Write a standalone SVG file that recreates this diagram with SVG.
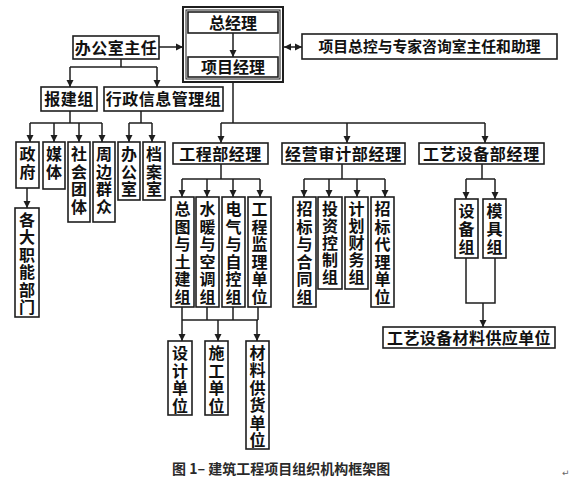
<svg xmlns="http://www.w3.org/2000/svg" width="570" height="479" viewBox="0 0 570 479">
<defs>
<style>
.b{fill:#fff;stroke:#1e1e1e;stroke-width:1.6}
.t{font-family:"Noto Sans CJK SC","Noto Sans",sans-serif;font-size:16px;font-weight:700;fill:#111;text-anchor:middle}
.v{font-family:"Noto Sans CJK SC","Noto Sans",sans-serif;font-size:16px;font-weight:700;fill:#111;writing-mode:vertical-rl;text-anchor:start;letter-spacing:1.5px}
.c line,.c polyline{stroke:#1e1e1e;stroke-width:1.5;fill:none}
.a{marker-end:url(#ah)}
</style>
<marker id="ah" viewBox="0 0 10 10" refX="10" refY="5" markerWidth="7" markerHeight="8" markerUnits="userSpaceOnUse" orient="auto-start-reverse">
<path d="M0,0 L10,5 L0,10 z" fill="#1e1e1e"/>
</marker>
</defs>
<rect width="570" height="479" fill="#fff"/>

<g id="connectors" class="c">
<line class="a" x1="233" y1="33" x2="233" y2="57"/>
<line class="a" x1="159" y1="47" x2="183" y2="47"/>
<line x1="284" y1="47" x2="302" y2="47" marker-start="url(#ah)" marker-end="url(#ah)"/>
<polyline points="121,59 121,67"/>
<line x1="70" y1="67" x2="157" y2="67"/>
<line class="a" x1="70" y1="67" x2="70" y2="87"/>
<line class="a" x1="157" y1="67" x2="157" y2="87"/>
<line x1="70" y1="111" x2="70" y2="123"/>
<line x1="30" y1="123" x2="102" y2="123"/>
<line class="a" x1="30" y1="123" x2="30" y2="142"/>
<line class="a" x1="54" y1="123" x2="54" y2="142"/>
<line class="a" x1="79" y1="123" x2="79" y2="142"/>
<line class="a" x1="102" y1="123" x2="102" y2="142"/>
<line x1="141" y1="111" x2="141" y2="123"/>
<line x1="129" y1="123" x2="152" y2="123"/>
<line class="a" x1="129" y1="123" x2="129" y2="142"/>
<line class="a" x1="152" y1="123" x2="152" y2="142"/>
<line class="a" x1="27" y1="188" x2="27" y2="208"/>
<line x1="233" y1="82" x2="233" y2="123"/>
<line x1="221" y1="123" x2="485" y2="123"/>
<line class="a" x1="221" y1="123" x2="221" y2="143"/>
<line class="a" x1="347" y1="123" x2="347" y2="143"/>
<line class="a" x1="485" y1="123" x2="485" y2="143"/>
<line x1="221" y1="164" x2="221" y2="179"/>
<line x1="182" y1="179" x2="260" y2="179"/>
<line class="a" x1="182" y1="179" x2="182" y2="197"/>
<line class="a" x1="207" y1="179" x2="207" y2="197"/>
<line class="a" x1="233" y1="179" x2="233" y2="197"/>
<line class="a" x1="260" y1="179" x2="260" y2="197"/>
<line x1="342" y1="164" x2="342" y2="179"/>
<line x1="304" y1="179" x2="385" y2="179"/>
<line class="a" x1="304" y1="179" x2="304" y2="197"/>
<line class="a" x1="329" y1="179" x2="329" y2="197"/>
<line class="a" x1="357" y1="179" x2="357" y2="197"/>
<line class="a" x1="385" y1="179" x2="385" y2="197"/>
<line x1="482" y1="164" x2="482" y2="179"/>
<line x1="466" y1="179" x2="495" y2="179"/>
<line class="a" x1="466" y1="179" x2="466" y2="199"/>
<line class="a" x1="495" y1="179" x2="495" y2="199"/>
<polyline points="466,258 466,303 495,303 495,258"/>
<line class="a" x1="483" y1="303" x2="483" y2="327"/>
<line x1="182" y1="307" x2="182" y2="320"/>
<line x1="207" y1="307" x2="207" y2="320"/>
<line x1="233" y1="307" x2="233" y2="320"/>
<line x1="258" y1="307" x2="258" y2="320"/>
<line x1="182" y1="320" x2="258" y2="320"/>
<line class="a" x1="182" y1="320" x2="182" y2="341"/>
<line class="a" x1="218" y1="320" x2="218" y2="341"/>
<line class="a" x1="257" y1="320" x2="257" y2="341"/>
</g>

<g id="top-frame">
<rect x="183" y="7" width="100" height="75" fill="none" stroke="#1e1e1e" stroke-width="2"/>
<rect x="186" y="10" width="94" height="69" fill="none" stroke="#1e1e1e" stroke-width="1"/>
</g>
<g id="zongjingli"><rect class="b" x="188" y="12" width="90" height="21"/><text class="t" x="233" y="28.5">总经理</text></g>
<g id="xiangmujingli"><rect class="b" x="188" y="57" width="90" height="20"/><text class="t" x="233" y="73">项目经理</text></g>
<g id="bangongshizhuren"><rect class="b" x="73" y="36" width="86" height="23"/><text class="t" x="116" y="53.5" letter-spacing="0.5">办公室主任</text></g>
<g id="zongkong"><rect class="b" x="302" y="34" width="255" height="25"/><text class="t" x="429.5" y="52" style="font-size:14.8px">项目总控与专家咨询室主任和助理</text></g>
<g id="baojianzu"><rect class="b" x="41" y="87" width="56" height="24"/><text class="t" x="69" y="105" letter-spacing="0.5">报建组</text></g>
<g id="xingzheng"><rect class="b" x="104" y="87" width="119" height="24"/><text class="t" x="163.5" y="105" letter-spacing="0.5">行政信息管理组</text></g>

<g id="zhengfu"><rect class="b" x="16" y="142" width="23" height="46"/><text class="v" x="27.5" y="146">政府</text></g>
<g id="meiti"><rect class="b" x="43" y="142" width="22" height="47"/><text class="v" x="54" y="146">媒体</text></g>
<g id="shehuituanti"><rect class="b" x="68" y="142" width="22" height="80"/><text class="v" x="79" y="146">社会团体</text></g>
<g id="zhoubianqunzhong"><rect class="b" x="93" y="142" width="22" height="80"/><text class="v" x="104" y="146">周边群众</text></g>
<g id="bangongshi"><rect class="b" x="118" y="142" width="22" height="58"/><text class="v" x="129" y="146">办公室</text></g>
<g id="dananshi"><rect class="b" x="143" y="142" width="22" height="58"/><text class="v" x="154" y="146">档案室</text></g>
<g id="gedazhinengbumen"><rect class="b" x="15" y="208" width="24" height="109"/><text class="v" x="27" y="212" style="letter-spacing:1.4px">各大职能部门</text></g>

<g id="gongchengbu"><rect class="b" x="173" y="143" width="95" height="21"/><text class="t" x="220.5" y="159.5" letter-spacing="0.5">工程部经理</text></g>
<g id="jingyingshenji"><rect class="b" x="282" y="143" width="123" height="21"/><text class="t" x="343.5" y="159.5" letter-spacing="0.7">经营审计部经理</text></g>
<g id="gongyishebei"><rect class="b" x="419" y="143" width="125" height="21"/><text class="t" x="481.5" y="159.5" letter-spacing="0.7">工艺设备部经理</text></g>

<g id="zongtu"><rect class="b" x="171" y="197" width="23" height="110"/><text class="v" x="182.5" y="201">总图与土建组</text></g>
<g id="shuinuan"><rect class="b" x="196" y="197" width="23" height="110"/><text class="v" x="207.5" y="201">水暖与空调组</text></g>
<g id="dianqi"><rect class="b" x="222" y="197" width="23" height="110"/><text class="v" x="233.5" y="201">电气与自控组</text></g>
<g id="jianli"><rect class="b" x="248" y="197" width="23" height="110"/><text class="v" x="259.5" y="201">工程监理单位</text></g>

<g id="zhaobiaohetong"><rect class="b" x="293" y="197" width="23" height="110"/><text class="v" x="304.5" y="201">招标与合同组</text></g>
<g id="touzikongzhi"><rect class="b" x="318" y="197" width="24" height="92"/><text class="v" x="330" y="201" style="letter-spacing:1px">投资控制组</text></g>
<g id="jihuacaiwu"><rect class="b" x="345" y="197" width="23" height="92"/><text class="v" x="356.5" y="201" style="letter-spacing:1px">计划财务组</text></g>
<g id="zhaobiaodaili"><rect class="b" x="371" y="197" width="23" height="110"/><text class="v" x="382.5" y="201">招标代理单位</text></g>

<g id="shebeizu"><rect class="b" x="455" y="199" width="23" height="59"/><text class="v" x="466.5" y="203" style="letter-spacing:2px">设备组</text></g>
<g id="mojuzu"><rect class="b" x="483" y="199" width="23" height="59"/><text class="v" x="494.5" y="203" style="letter-spacing:2px">模具组</text></g>
<g id="gongyicailiao"><rect class="b" x="383" y="327" width="172" height="21"/><text class="t" x="469" y="343.5" letter-spacing="0.4">工艺设备材料供应单位</text></g>

<g id="shejidanwei"><rect class="b" x="168" y="341" width="24" height="74"/><text class="v" x="180" y="345">设计单位</text></g>
<g id="shigongdanwei"><rect class="b" x="205" y="341" width="23" height="74"/><text class="v" x="216.5" y="345">施工单位</text></g>
<g id="cailiaogonghuo"><rect class="b" x="246" y="341" width="23" height="108"/><text class="v" x="257.5" y="345" style="letter-spacing:1.4px">材料供货单位</text></g>

<g id="caption">
<text x="172" y="474" style="font-family:'Noto Sans CJK SC','Noto Sans',sans-serif;font-size:14px;font-weight:700;fill:#2a2a2a">图 1– 建筑工程项目组织机构框架图</text>
<text x="562" y="476" style="font-family:'DejaVu Sans',sans-serif;font-size:9px;fill:#666">↵</text>
</g>
</svg>
